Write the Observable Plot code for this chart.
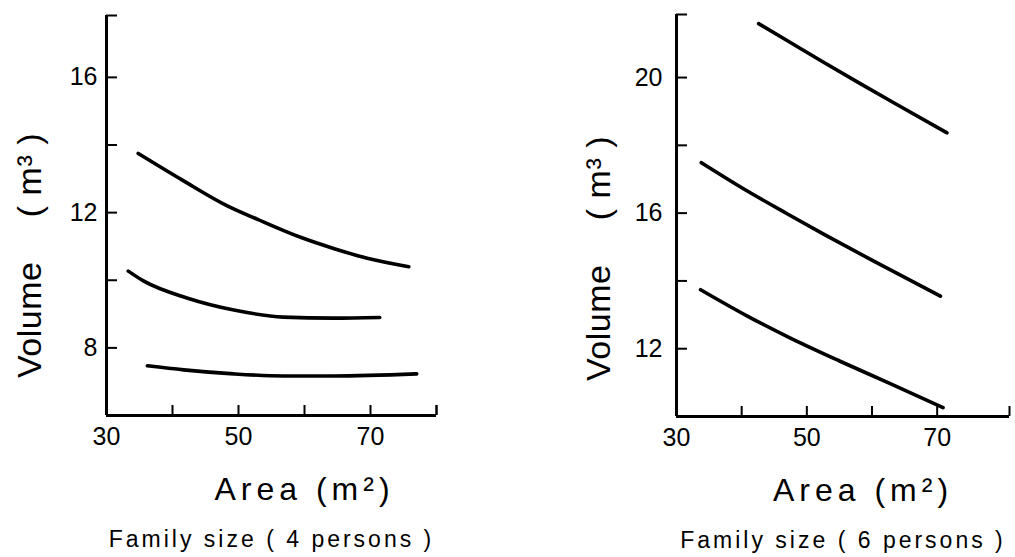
<!DOCTYPE html>
<html>
<head>
<meta charset="utf-8">
<script src="https://cdn.jsdelivr.net/npm/d3@7"></script>
<script src="https://cdn.jsdelivr.net/npm/@observablehq/plot@0.6"></script>
<style>
  html, body { margin: 0; padding: 0; background: #fff; }
  #wrap { display: flex; flex-direction: row; width: 1015px; height: 557px; }
  #wrap svg { display: block; overflow: visible; }
  g[aria-description="ylabel"] text { letter-spacing: 0.5px; }
  g[aria-description="xlabel"] text { letter-spacing: 5px; }
  g[aria-description="caption"] text { letter-spacing: 3px; }
</style>
</head>
<body>
<div id="wrap"></div>
<script>
// ---------- data ----------
// Left panel: Family size 4 persons
const areaL1 = [34.8, 41.5, 48.3, 52.9, 59.4, 64.4, 69.5, 75.8];
const volL1  = [13.75, 12.96, 12.2, 11.8, 11.27, 10.94, 10.65, 10.4];
const areaL2 = [33.3, 35.6, 42.3, 49.3, 56.8, 64.4, 71.4];
const volL2  = [10.27, 9.98, 9.47, 9.12, 8.91, 8.88, 8.9];
const areaL3 = [36.2, 41.7, 49.3, 56.8, 64.4, 77.0];
const volL3  = [7.47, 7.35, 7.23, 7.17, 7.17, 7.23];

// Right panel: Family size 6 persons
const areaR1 = [42.6, 46.9, 52.5, 58.2, 63.2, 71.5];
const volR1  = [21.59, 21.10, 20.46, 19.82, 19.27, 18.37];
const areaR2 = [33.8, 40.8, 46.9, 52.5, 60.2, 70.5];
const volR2  = [17.49, 16.66, 15.99, 15.39, 14.59, 13.55];
const areaR3 = [33.7, 40.8, 47.4, 55.1, 62.8, 70.9];
const volR3  = [13.74, 12.97, 12.32, 11.63, 10.97, 10.26];

// axes
const xDomainL = [30, 80];
const yDomainL = [6, 17.83];
const xDomainR = [30, 81.1];
const yDomainR = [10, 21.86];
const xTickL = [40, 50, 60, 70, 80];
const xTickR = [40, 50, 60, 70];
const xLabelTicks = [30, 50, 70];
const yTickL = [8, 10, 12, 14, 16];
const yLabelTickL = [8, 12, 16];
const yTickR = [12, 14, 16, 18, 20];
const yLabelTickR = [12, 16, 20];

const yTitle = "Volume\u2003 ( m\u00B3 )";
const xTitle = "Area (m\u00B2)";
const captionL = "Family size ( 4 persons )";
const captionR = "Family size ( 6 persons )";

function toRows(xs, ys, s) { return xs.map((x, i) => ({area: x, vol: ys[i], s})); }

function panel(o) {
  const rows = [
    ...toRows(o.series[0][0], o.series[0][1], "a"),
    ...toRows(o.series[1][0], o.series[1][1], "b"),
    ...toRows(o.series[2][0], o.series[2][1], "c")
  ];
  return Plot.plot({
    width: o.width,
    height: 557,
    marginLeft: o.ml, marginRight: o.mr, marginTop: o.mt, marginBottom: o.mb,
    style: {fontFamily: "'Liberation Sans', Arial, sans-serif", color: "#000", background: "#fff", overflow: "visible"},
    x: {domain: o.xDomain},
    y: {domain: o.yDomain},
    marks: [
      Plot.ruleX([o.xDomain[0]], {strokeWidth: 3, stroke: "#000"}),
      Plot.ruleY([o.yDomain[0]], {strokeWidth: 3, stroke: "#000"}),
      Plot.axisX({ticks: [...o.xTicks, o.xDomain[1]], tickSize: -10, tickFormat: () => "", strokeWidth: 2, label: null}),
      Plot.axisY({ticks: [...o.yTicks, o.yDomain[1]], tickSize: -11, tickFormat: () => "", strokeWidth: 2, label: null}),
      Plot.axisX({ticks: xLabelTicks, tickSize: 0, tickPadding: 12, fontSize: 25, label: null}),
      Plot.axisY({ticks: o.yLabelTicks, tickSize: 0, tickPadding: o.yPad, fontSize: 25, label: null}),
      Plot.line(rows, {x: "area", y: "vol", z: "s", stroke: "#000", strokeWidth: 3.6, curve: "monotone-x"}),
      Plot.text([yTitle], {frameAnchor: "left", rotate: -90, textAnchor: "middle", lineAnchor: "middle",
        dx: o.ytDx, dy: o.ytDy, fontSize: 34, ariaDescription: "ylabel"}),
      Plot.text([xTitle], {frameAnchor: "bottom", textAnchor: "middle", lineAnchor: "middle",
        dx: o.xtDx, dy: 74, fontSize: 32, ariaDescription: "xlabel"}),
      Plot.text([o.caption], {frameAnchor: "bottom", textAnchor: "middle", lineAnchor: "middle",
        dx: 0, dy: 124, fontSize: 23, ariaDescription: "caption"})
    ]
  });
}

const left = panel({
  width: 540, ml: 106, mr: 104, mt: 15, mb: 142,
  xDomain: xDomainL, yDomain: yDomainL, xTicks: xTickL, yTicks: yTickL, yLabelTicks: yLabelTickL, yPad: 9,
  series: [[areaL1, volL1], [areaL2, volL2], [areaL3, volL3]],
  ytDx: -76, ytDy: 40, xtDx: 33, caption: captionL
});
const right = panel({
  width: 475, ml: 136, mr: 6, mt: 14, mb: 141,
  xDomain: xDomainR, yDomain: yDomainR, xTicks: xTickR, yTicks: yTickR, yLabelTicks: yLabelTickR, yPad: 14,
  series: [[areaR1, volR1], [areaR2, volR2], [areaR3, volR3]],
  ytDx: -77, ytDy: 43, xtDx: 20, caption: captionR
});
const wrap = document.getElementById("wrap");
wrap.appendChild(left);
wrap.appendChild(right);
</script>
</body>
</html>
